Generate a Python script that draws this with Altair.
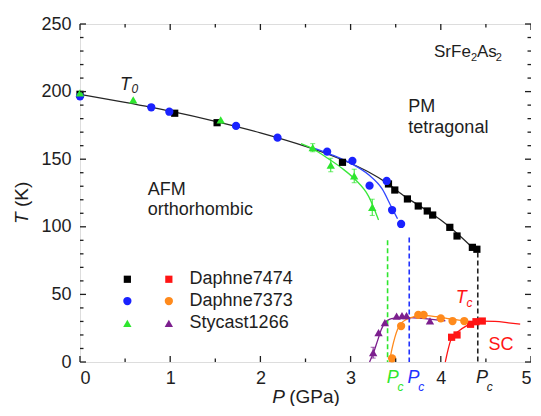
import altair as alt
import pandas as pd

FONT = "Liberation Sans"
INK = "#1e1e1e"

# ---------------- values ----------------
# T0 points (P in GPa, T in K)
d7474_T0_P = [0.00, 1.05, 1.52, 2.91, 3.42, 3.49, 3.63, 3.75, 3.85, 3.91, 4.10, 4.18, 4.35, 4.40]
d7474_T0_T = [198.0, 184.0, 177.0, 147.7, 131.7, 127.2, 120.6, 115.4, 111.7, 108.7, 99.6, 93.2, 84.8, 83.4]
d7373_T0_P = [0.00, 0.79, 0.99, 1.73, 2.19, 2.74, 3.02, 3.21, 3.40, 3.46, 3.56]
d7373_T0_T = [196.5, 188.4, 185.1, 174.6, 165.9, 155.6, 148.7, 130.4, 133.9, 112.4, 102.1]
s1266_T0_P = [0.00, 0.59, 1.56, 2.58, 2.78, 3.04, 3.24]
s1266_T0_T = [199.0, 193.8, 179.0, 158.5, 145.7, 137.6, 114.4]
s1266_T0_E = [0, 0, 0, 3, 5, 5, 6]

# Tc points
d7474_Tc_P = [4.12, 4.18, 4.33, 4.39, 4.46]
d7474_Tc_T = [18.3, 20.0, 27.9, 29.8, 30.3]
d7373_Tc_P = [3.46, 3.56, 3.75, 3.81, 4.00, 4.13, 4.26]
d7373_Tc_T = [2.7, 26.6, 34.8, 34.8, 32.3, 30.3, 30.3]
s1266_Tc_P = [3.25, 3.31, 3.38, 3.51, 3.57, 3.62, 3.88]
s1266_Tc_T = [6.9, 21.7, 29.1, 34.0, 34.3, 34.3, 30.5]
s1266_Tc_E = [4, 0, 0, 0, 0, 0, 0]

# guide-to-the-eye curves
fit_black_P = [0.0, 0.5, 1.0, 1.5, 2.0, 2.5, 2.8, 3.0, 3.2, 3.4, 3.6, 3.8, 4.0, 4.2, 4.4]
fit_black_T = [198, 192, 185.5, 178, 169.5, 159.5, 152.5, 147, 140.5, 132.5, 122.5, 114, 105, 94, 81.5]
fit_blue_P = [2.6, 2.8, 3.0, 3.2, 3.35, 3.45, 3.52]
fit_blue_T = [158, 153, 147, 138.5, 128, 115, 106]
fit_green_P = [2.45, 2.6, 2.75, 2.9, 3.05, 3.2, 3.31]
fit_green_T = [161.5, 157, 150.5, 143.5, 135, 122.5, 105]
fit_purple_P = [3.21, 3.26, 3.30, 3.34, 3.38, 3.43, 3.50, 3.60, 3.75, 3.90, 4.05]
fit_purple_T = [0, 8, 16, 24, 29, 31.5, 32.5, 33, 32.5, 31.5, 30.5]
fit_orange_P = [3.43, 3.46, 3.49, 3.52, 3.56, 3.62, 3.70, 3.80, 3.95, 4.10, 4.30]
fit_orange_T = [0, 10, 18, 24, 28.5, 31.5, 33.5, 34.5, 33.5, 32, 30]
fit_red_P = [4.05, 4.08, 4.11, 4.15, 4.20, 4.28, 4.36, 4.45, 4.60, 4.75, 4.88]
fit_red_T = [0, 9, 16, 20, 23, 26.5, 29, 30.3, 30, 29, 28]

# critical pressures (dashed lines)
pc_P = [3.41, 3.65, 4.41]
pc_top = [90, 92, 81]

legend_labels = ["Daphne7474", "Daphne7373", "Stycast1266"]
x_labels = [0, 1, 2, 3, 4, 5]
y_labels = [0, 50, 100, 150, 200, 250]
x_minor = [0.5, 1.5, 2.5, 3.5, 4.5]
y_minor = [v for v in range(10, 250, 10) if v % 50]

# ---------------- styles ----------------
BLACK, BLUE, GREEN = "#000000", "#1a22ff", "#2ee62e"
RED, ORANGE, PURPLE = "#ff1414", "#ff8a1c", "#7c1f8e"
style = {
    "d7474_T0": ("square", BLACK, 52),
    "d7373_T0": ("circle", BLUE, 68),
    "s1266_T0": ("triangle-up", GREEN, 70),
    "d7474_Tc": ("square", RED, 52),
    "d7373_Tc": ("circle", ORANGE, 68),
    "s1266_Tc": ("triangle-up", PURPLE, 70),
}
series = {
    "d7474_T0": (d7474_T0_P, d7474_T0_T),
    "d7373_T0": (d7373_T0_P, d7373_T0_T),
    "s1266_T0": (s1266_T0_P, s1266_T0_T),
    "d7474_Tc": (d7474_Tc_P, d7474_Tc_T),
    "d7373_Tc": (d7373_Tc_P, d7373_Tc_T),
    "s1266_Tc": (s1266_Tc_P, s1266_Tc_T),
}
rows = []
for k, (ps, ts) in series.items():
    sh, col, sz = style[k]
    for p, t in zip(ps, ts):
        rows.append(dict(P=p, T=t, shape=sh, color=col, size=sz))
df_pts = pd.DataFrame(rows)

fits = [
    (fit_black_P, fit_black_T, "#262626", "black"),
    (fit_blue_P, fit_blue_T, "#3348ff", "blue"),
    (fit_green_P, fit_green_T, "#3ae83a", "green"),
    (fit_purple_P, fit_purple_T, PURPLE, "purple"),
    (fit_orange_P, fit_orange_T, ORANGE, "orange"),
    (fit_red_P, fit_red_T, RED, "red"),
]
lrows = []
for ps, ts, col, name in fits:
    for p, t in zip(ps, ts):
        lrows.append(dict(P=p, T=t, color=col, curve=name))
df_lines = pd.DataFrame(lrows)

df_pc = pd.DataFrame(dict(P=pc_P, top=pc_top, bot=[0, 0, 0], color=[GREEN, "#2233ff", "#222222"]))

erows = []
for ps, ts, es, col in [(s1266_T0_P, s1266_T0_T, s1266_T0_E, GREEN),
                        (s1266_Tc_P, s1266_Tc_T, s1266_Tc_E, PURPLE)]:
    for p, t, e in zip(ps, ts, es):
        if e:
            erows.append(dict(P=p, lo=t - e, hi=t + e, color=col))
df_err = pd.DataFrame(erows)

W, H = 451, 338
xs = alt.Scale(domain=[0, 5], nice=False, zero=False)
ys = alt.Scale(domain=[0, 250], nice=False, zero=False)
xax = alt.Axis(values=x_labels, ticks=False, domain=False, grid=False, title=None,
               labelFontSize=18, labelPadding=7, labelColor=INK, labelFont=FONT, format="d")
yax = alt.Axis(values=y_labels, ticks=False, domain=False, grid=False, title=None,
               labelFontSize=18, labelPadding=9, labelColor=INK, labelFont=FONT, format="d")


def X(f):
    return alt.X(f"{f}:Q", scale=xs, axis=xax)


def Y(f):
    return alt.Y(f"{f}:Q", scale=ys, axis=yax)


lines = alt.Chart(df_lines).mark_line(interpolate="monotone", strokeWidth=1.3).encode(
    x=X("P"), y=Y("T"), detail="curve:N", color=alt.Color("color:N", scale=None))

dashed = alt.Chart(df_pc).mark_rule(strokeDash=[5, 3], strokeWidth=1.6).encode(
    x=X("P"), y=Y("top"), y2="bot:Q", color=alt.Color("color:N", scale=None))

errs = alt.Chart(df_err).mark_rule(strokeWidth=1).encode(
    x=X("P"), y=Y("lo"), y2="hi:Q", color=alt.Color("color:N", scale=None))
caps_lo = alt.Chart(df_err).mark_tick(orient="horizontal", size=5, thickness=1).encode(
    x=X("P"), y=Y("lo"), color=alt.Color("color:N", scale=None))
caps_hi = alt.Chart(df_err).mark_tick(orient="horizontal", size=5, thickness=1).encode(
    x=X("P"), y=Y("hi"), color=alt.Color("color:N", scale=None))

pts = alt.Chart(df_pts).mark_point(filled=True, opacity=1).encode(
    x=X("P"), y=Y("T"), shape=alt.Shape("shape:N", scale=None),
    color=alt.Color("color:N", scale=None), size=alt.Size("size:Q", scale=None))

# legend (two symbol columns + label)
leg_rows = []
leg_T = [61.2, 45.1, 28.6]
for lab, yv, k1, k2 in zip(legend_labels, leg_T,
                           ["d7474_T0", "d7373_T0", "s1266_T0"],
                           ["d7474_Tc", "d7373_Tc", "s1266_Tc"]):
    for xv, k in [(0.525, k1), (0.985, k2)]:
        sh, col, sz = style[k]
        leg_rows.append(dict(P=xv, T=yv, shape=sh, color=col, size=sz))
df_leg = pd.DataFrame(leg_rows)
leg_sym = alt.Chart(df_leg).mark_point(filled=True, opacity=1).encode(
    x=X("P"), y=Y("T"), shape=alt.Shape("shape:N", scale=None),
    color=alt.Color("color:N", scale=None), size=alt.Size("size:Q", scale=None))
leg_txt = alt.Chart(pd.DataFrame(dict(P=[1.215] * 3, T=leg_T, text=legend_labels))).mark_text(
    align="left", baseline="middle", font=FONT, fontSize=18, color=INK).encode(
    x=X("P"), y=Y("T"), text="text:N")

# annotations
ann = pd.DataFrame([
    dict(text="AFM", P=0.752, T=123.5, color=INK, fs=18, it=False),
    dict(text="orthorhombic", P=0.752, T=108.7, color=INK, fs=18, it=False),
    dict(text="PM", P=3.64, T=185.0, color=INK, fs=18, it=False),
    dict(text="tetragonal", P=3.64, T=169.4, color=INK, fs=18, it=False),
    dict(text="SrFe", P=3.925, T=225.6, color=INK, fs=17, it=False),
    dict(text="2", P=4.335, T=222.5, color=INK, fs=11, it=False),
    dict(text="As", P=4.40, T=225.6, color=INK, fs=17, it=False),
    dict(text="2", P=4.61, T=222.5, color=INK, fs=11, it=False),
    dict(text="SC", P=4.53, T=8.9, color=RED, fs=18, it=False),
    dict(text="(GPa)", P=2.32, T=-30.0, color=INK, fs=19, it=False),
    dict(text="T", P=0.443, T=201.0, color=INK, fs=18, it=True),
    dict(text="0", P=0.57, T=199.3, color=INK, fs=12, it=True),
    dict(text="T", P=4.165, T=43.6, color=RED, fs=18, it=True),
    dict(text="c", P=4.285, T=40.7, color=RED, fs=12, it=True),
    dict(text="P", P=3.40, T=-15.5, color=GREEN, fs=18, it=True),
    dict(text="c", P=3.52, T=-21.8, color=GREEN, fs=12, it=True),
    dict(text="P", P=3.63, T=-15.5, color="#2233ff", fs=18, it=True),
    dict(text="c", P=3.75, T=-21.8, color="#2233ff", fs=12, it=True),
    dict(text="P", P=4.39, T=-15.5, color=INK, fs=18, it=True),
    dict(text="c", P=4.51, T=-21.8, color=INK, fs=12, it=True),
    dict(text="P", P=2.13, T=-30.0, color=INK, fs=19, it=True),
])


def ann_layer(df, italic, angle=0):
    m = dict(align="left", baseline="alphabetic", font=FONT)
    if italic:
        m["fontStyle"] = "italic"
    if angle:
        m["angle"] = angle
    return alt.Chart(df).mark_text(**m).encode(
        x=X("P"), y=Y("T"), text="text:N",
        color=alt.Color("color:N", scale=None), size=alt.Size("fs:Q", scale=None))


txt_n = ann_layer(ann[~ann.it], False)
txt_i = ann_layer(ann[ann.it], True)
rot = pd.DataFrame([
    dict(text="T", P=-0.58, T=102.1, color=INK, fs=19),
    dict(text="(K)", P=-0.58, T=114.6, color=INK, fs=19),
])
rot_i = ann_layer(rot.iloc[[0]], True, angle=270)
rot_n = ann_layer(rot.iloc[[1]], False, angle=270)


# inward ticks on all four sides
def tick_layers(vals, L, axis):
    d = alt.Chart(pd.DataFrame(dict(v=vals)))
    if axis == "x":
        return [d.mark_rule(color=INK, strokeWidth=1.3).encode(x=X("v"), y=alt.value(H), y2=alt.value(H - L)),
                d.mark_rule(color=INK, strokeWidth=1.3).encode(x=X("v"), y=alt.value(0), y2=alt.value(L))]
    return [d.mark_rule(color=INK, strokeWidth=1.3).encode(y=Y("v"), x=alt.value(0), x2=alt.value(L)),
            d.mark_rule(color=INK, strokeWidth=1.3).encode(y=Y("v"), x=alt.value(W), x2=alt.value(W - L))]


ticks = (tick_layers(x_labels, 6, "x") + tick_layers(x_minor, 3.5, "x") +
         tick_layers(y_labels, 6, "y") + tick_layers(y_minor, 3.5, "y"))

chart = alt.layer(lines, dashed, errs, caps_lo, caps_hi, pts, leg_sym, leg_txt,
                  txt_n, txt_i, rot_i, rot_n, *ticks).properties(
    width=W, height=H,
    autosize=alt.AutoSizeParams(type="none"),
    padding={"left": 72, "top": 16, "right": 0, "bottom": 44},
).configure_view(stroke=INK, strokeWidth=1.6).configure(font=FONT, background="white")

chart.save("out.html", embed_options={"renderer": "svg", "actions": False})
